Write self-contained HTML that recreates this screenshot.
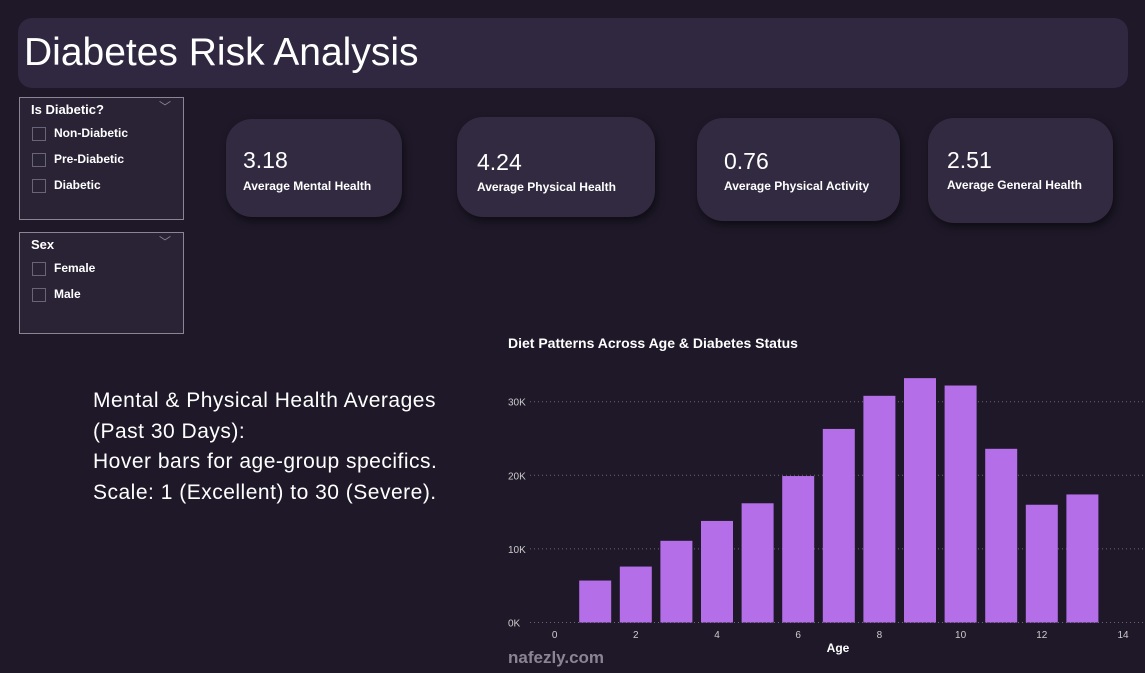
<!DOCTYPE html>
<html><head><meta charset="utf-8"><style>
body{margin:0;width:1145px;height:673px;background:#1e1828;font-family:"Liberation Sans",sans-serif;color:#fff;position:relative;overflow:hidden}
.abs{position:absolute}
.card{position:absolute;background:#322a40;border-radius:26px;box-shadow:2px 4px 8px rgba(0,0,0,.5)}
.card .v{position:absolute;left:17px;top:28px;font-size:23px}
.card .l{position:absolute;left:17px;top:60px;font-size:12px;font-weight:bold}
.sl{position:absolute;border:1px solid #8a8494;background:#2a2336}
.sl .h{position:absolute;left:11px;top:4px;font-size:13px;font-weight:bold}
.sl .chev{position:absolute;right:12px;top:0;color:#8a8494;font-size:12px}
.it{position:absolute;left:12px;font-size:12px;font-weight:bold}
.it span{display:inline-block;width:12px;height:12px;border:1px solid #6a6478;vertical-align:middle;margin-right:8px}
</style></head><body>
<div class="abs" style="left:18px;top:18px;width:1110px;height:70px;background:#2f2840;border-radius:14px"></div>
<div class="abs" style="left:24px;top:31px;font-size:39px;font-weight:300">Diabetes Risk Analysis</div>

<div class="sl" style="left:19px;top:97px;width:163px;height:121px">
<div class="h">Is Diabetic?</div><div class="chev">﹀</div>
<div class="it" style="top:28px"><span></span>Non-Diabetic</div>
<div class="it" style="top:54px"><span></span>Pre-Diabetic</div>
<div class="it" style="top:80px"><span></span>Diabetic</div>
</div>
<div class="sl" style="left:19px;top:232px;width:163px;height:100px">
<div class="h">Sex</div><div class="chev">﹀</div>
<div class="it" style="top:28px"><span></span>Female</div>
<div class="it" style="top:54px"><span></span>Male</div>
</div>

<div class="card" style="left:226px;top:119px;width:176px;height:98px"><div class="v">3.18</div><div class="l">Average Mental Health</div></div>
<div class="card" style="left:457px;top:117px;width:198px;height:100px"><div class="v" style="left:20px;top:32px">4.24</div><div class="l" style="left:20px;top:63px">Average Physical Health</div></div>
<div class="card" style="left:697px;top:118px;width:203px;height:103px"><div class="v" style="left:27px;top:30px">0.76</div><div class="l" style="left:27px;top:61px">Average Physical Activity</div></div>
<div class="card" style="left:928px;top:118px;width:185px;height:105px"><div class="v" style="left:19px;top:29px">2.51</div><div class="l" style="left:19px;top:60px">Average General Health</div></div>

<div class="abs" style="left:93px;top:386px;font-size:21px;line-height:30.5px;letter-spacing:0.5px">Mental &amp; Physical Health Averages<br>(Past 30 Days):<br>Hover bars for age-group specifics.<br>Scale: 1 (Excellent) to 30 (Severe).</div>

<svg class="abs" style="left:0;top:0" width="1145" height="673" id="chart">
<text x="508" y="348" fill="#fff" font-size="14" font-weight="bold">Diet Patterns Across Age &amp; Diabetes Status</text>
<text x="838" y="652" fill="#fff" font-size="12" font-weight="bold" text-anchor="middle">Age</text>
<text x="508" y="663" fill="#8a8494" font-size="17" font-weight="bold">nafezly.com</text>
</svg>
<script>
const ages=[1,2,3,4,5,6,7,8,9,10,11,12,13];
const counts=[5700,7600,11100,13800,16200,19900,26300,30800,33200,32200,23600,16000,17400];
const yTicks=[0,10000,20000,30000];
const yTickLabels=['0K','10K','20K','30K'];
const xTicks=[0,2,4,6,8,10,12,14];
const svg=document.getElementById('chart');
const NS='http://www.w3.org/2000/svg';
const xs=v=>554.6+v*40.6;
const ys=v=>622.5-v*0.00736;
function mk(t,a){const e=document.createElementNS(NS,t);for(const k in a)e.setAttribute(k,a[k]);svg.appendChild(e);return e;}
yTicks.forEach((v,i)=>{
 const g=mk('line',{x1:530,x2:1145,y1:ys(v),y2:ys(v),stroke:'#6a6478','stroke-dasharray':'1 3','stroke-width':1});
 
 
 const t=mk('text',{x:508,y:ys(v)+4,fill:'#ccc','font-size':10});
 t.textContent=yTickLabels[i];
 
 
});
ages.forEach((a,i)=>{
 const r=mk('rect',{x:xs(a)-16,y:ys(counts[i]),width:32,height:ys(0)-ys(counts[i]),fill:'#b36ee8'});
 
 
});
xTicks.forEach(v=>{
 const t=mk('text',{x:xs(v),y:638,fill:'#ccc','font-size':10,'text-anchor':'middle'});
 t.textContent=v;
 
 
});
</script>
</body></html>
